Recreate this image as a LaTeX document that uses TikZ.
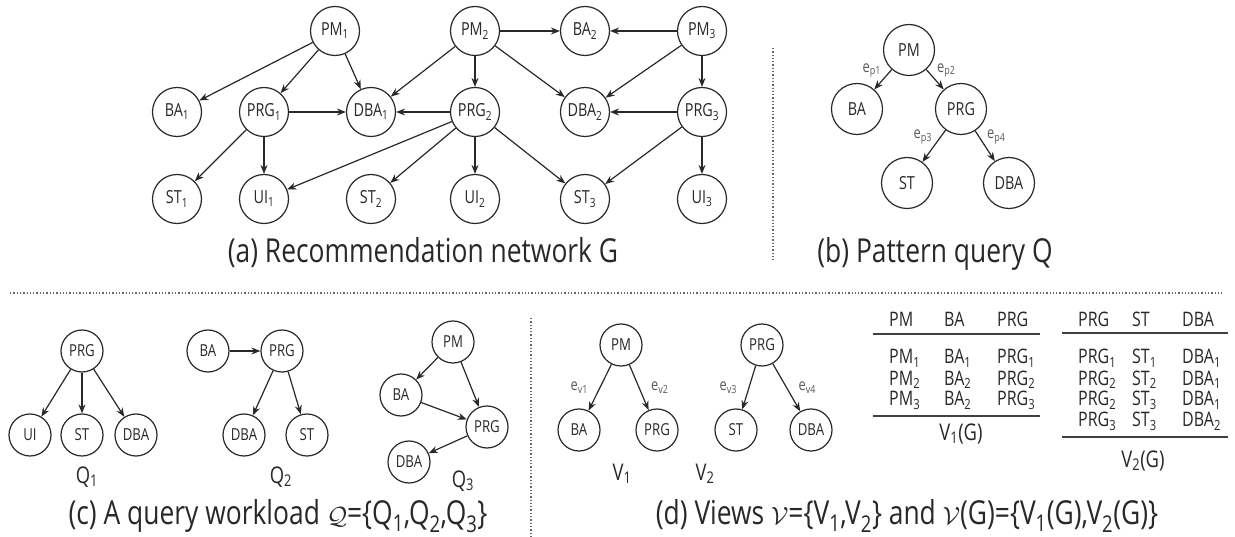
\documentclass[tikz,border=0pt]{standalone}
\usepackage{fontspec}
\setmainfont{Open Sans}[FakeStretch=0.8]
\usepackage{tikz}
\usetikzlibrary{arrows.meta, positioning}
\definecolor{cInk}{RGB}{40,40,40}
\tikzset{
    vtx/.style   ={circle, draw=cInk, line width=1.2pt, minimum size=49pt, inner sep=0pt, text=cInk, font=\fontsize{18}{20}\selectfont},
    bvtx/.style  ={vtx, minimum size=51pt},
    svtx/.style  ={vtx, minimum size=42pt, font=\fontsize{16.5}{18}\selectfont},
    edge/.style  ={-{Stealth[length=9pt, width=7pt]}, line width=1.2pt, cInk},
    elabel/.style={font=\fontsize{16}{18}\selectfont, text=black!65, inner sep=1.5pt},
    capt/.style  ={font=\fontsize{33}{38}\selectfont, text=cInk, anchor=base},
    lbl/.style   ={font=\fontsize{23}{26}\selectfont, text=cInk, anchor=base},
    cell/.style  ={font=\fontsize{20}{22}\selectfont, text=cInk, anchor=base west, inner sep=0pt},
    rule/.style  ={line width=1.3pt, black!75},
    sepline/.style={dotted, line width=1.3pt, black!60},
}

\begin{document}
\begin{tikzpicture}[x=1pt, y=-1pt, on grid]
    \useasboundingbox (0,0) rectangle (1235,537);

    % (a) the network
    \node[vtx] (pm1) at (335,31) {PM\textsubscript{1}};
    \node[vtx] (pm2) at (475,31) {PM\textsubscript{2}};
    \node[vtx, right=110pt of pm2] (ba2) {BA\textsubscript{2}};
    \node[vtx, right=117pt of ba2] (pm3) {PM\textsubscript{3}};
    \node[vtx, below=81pt of pm2] (prg2) {PRG\textsubscript{2}};
    \node[vtx, below=81pt of ba2] (dba2) {DBA\textsubscript{2}};
    \node[vtx, below=81pt of pm3] (prg3) {PRG\textsubscript{3}};
    \node[vtx, left=104pt of prg2] (dba1) {DBA\textsubscript{1}};
    \node[vtx, left=107pt of dba1] (prg1) {PRG\textsubscript{1}};
    \node[vtx, left=87pt of prg1] (ba1) {BA\textsubscript{1}};
    \node[vtx, below=87pt of ba1] (st1) {ST\textsubscript{1}};
    \node[vtx, below=87pt of prg1] (ui1) {UI\textsubscript{1}};
    \node[vtx, below=87pt of dba1] (st2) {ST\textsubscript{2}};
    \node[vtx, below=87pt of prg2] (ui2) {UI\textsubscript{2}};
    \node[vtx, below=87pt of dba2] (st3) {ST\textsubscript{3}};
    \node[vtx, below=87pt of prg3] (ui3) {UI\textsubscript{3}};

    \draw[edge] (pm1) -- (ba1);
    \draw[edge] (pm1) -- (prg1);
    \draw[edge] (pm1) -- (dba1);
    \draw[edge] (prg1) -- (dba1);
    \draw[edge] (prg1) -- (st1);
    \draw[edge] (prg1) -- (ui1);
    \draw[edge] (pm2) -- (dba1);
    \draw[edge] (pm2) -- (prg2);
    \draw[edge] (pm2) -- (ba2);
    \draw[edge] (pm2) -- (dba2);
    \draw[edge] (prg2) -- (dba1);
    \draw[edge] (prg2) -- (ui1);
    \draw[edge] (prg2) -- (st2);
    \draw[edge] (prg2) -- (ui2);
    \draw[edge] (prg2) -- (st3);
    \draw[edge] (pm3) -- (ba2);
    \draw[edge] (pm3) -- (dba2);
    \draw[edge] (pm3) -- (prg3);
    \draw[edge] (prg3) -- (dba2);
    \draw[edge] (prg3) -- (st3);
    \draw[edge] (prg3) -- (ui3);

    \node[capt] (capa) at (423,263) {(a) Recommendation network G};

    % (b) the pattern
    \node[bvtx] (qpm) at (909,50) {PM};
    \node[bvtx, below left=59pt and 52pt of qpm] (qba) {BA};
    \node[bvtx, below right=59pt and 52pt of qpm] (qprg) {PRG};
    \node[bvtx, below left=74pt and 54pt of qprg] (qst) {ST};
    \node[bvtx, below right=74pt and 48pt of qprg] (qdba) {DBA};

    \draw[edge] (qpm) -- node[elabel, above left] {e\textsubscript{p1}} (qba);
    \draw[edge] (qpm) -- node[elabel, above right] {e\textsubscript{p2}} (qprg);
    \draw[edge] (qprg) -- node[elabel, above left] {e\textsubscript{p3}} (qst);
    \draw[edge] (qprg) -- node[elabel, above right] {e\textsubscript{p4}} (qdba);

    \node[capt] (capb) at (935,263) {(b) Pattern query Q};

    % separators
    \draw[sepline] (773,48) -- (773,260);
    \draw[sepline] (10,293) -- (1222,293);
    \draw[sepline] (531,318) -- (531,537);

    % (c) the workload
    \node[svtx] (aprg) at (82,351) {PRG};
    \node[svtx, below=84pt of aprg] (ast) {ST};
    \node[svtx, left=52pt of ast] (aui) {UI};
    \node[svtx, right=54pt of ast] (adba) {DBA};
    \draw[edge] (aprg) -- (aui);
    \draw[edge] (aprg) -- (ast);
    \draw[edge] (aprg) -- (adba);
    \node[lbl] (q1) at (87,483) {Q\textsubscript{1}};

    \node[svtx] (bba) at (208,351) {BA};
    \node[svtx, right=74pt of bba] (bprg) {PRG};
    \node[svtx, below left=84pt and 38pt of bprg] (bdba) {DBA};
    \node[svtx, below right=84pt and 25pt of bprg] (bst) {ST};
    \draw[edge] (bba) -- (bprg);
    \draw[edge] (bprg) -- (bdba);
    \draw[edge] (bprg) -- (bst);
    \node[lbl] (q2) at (281,483) {Q\textsubscript{2}};

    \node[svtx] (cpm) at (453,342) {PM};
    \node[svtx] (cba) at (401,395) {BA};
    \node[svtx] (cprg) at (487,427) {PRG};
    \node[svtx] (cdba) at (409,462) {DBA};
    \draw[edge] (cpm) -- (cba);
    \draw[edge] (cpm) -- (cprg);
    \draw[edge] (cba) -- (cprg);
    \draw[edge] (cprg) -- (cdba);
    \node[lbl] (q3) at (463,487) {Q\textsubscript{3}};

    \node[capt] (capc) at (278,524) {(c) A query workload $\mathcal{Q}$=\{Q\textsubscript{1},Q\textsubscript{2},Q\textsubscript{3}\}};

    % (d) the views
    \node[svtx] (vpm) at (621,345) {PM};
    \node[svtx, below left=85pt and 42pt of vpm] (vba) {BA};
    \node[svtx, below right=85pt and 36pt of vpm] (vprg) {PRG};
    \draw[edge] (vpm) -- node[elabel, left=10pt] {e\textsubscript{v1}} (vba);
    \draw[edge] (vpm) -- node[elabel, right=10pt] {e\textsubscript{v2}} (vprg);
    \node[lbl] (v1) at (622,480) {V\textsubscript{1}};

    \node[svtx] (wprg) at (762,345) {PRG};
    \node[svtx, below left=85pt and 26pt of wprg] (wst) {ST};
    \node[svtx, below right=85pt and 49pt of wprg] (wdba) {DBA};
    \draw[edge] (wprg) -- node[elabel, left=10pt] {e\textsubscript{v3}} (wst);
    \draw[edge] (wprg) -- node[elabel, right=10pt] {e\textsubscript{v4}} (wdba);
    \node[lbl] (v2) at (705,480) {V\textsubscript{2}};

    % view tables
    \node[cell] (t1h1) at (889,327) {PM};
    \node[cell] (t1h2) at (944,327) {BA};
    \node[cell] (t1h3) at (997,327) {PRG};
    \foreach \a/\b/\c [count=\i] in {1/1/1, 2/2/2, 3/2/3} {
        \node[cell] (t1r\i a) at (889,343+21*\i) {PM\textsubscript{\a}};
        \node[cell] (t1r\i b) at (944,343+21*\i) {BA\textsubscript{\b}};
        \node[cell] (t1r\i c) at (997,343+21*\i) {PRG\textsubscript{\c}};
    }
    \draw[rule] (873,334) -- (1040,334);
    \draw[rule, line width=2.4pt] (873,416) -- (1040,416);
    \node[lbl] (t1) at (961,440) {V\textsubscript{1}(G)};

    \node[cell] (t2h1) at (1078,327) {PRG};
    \node[cell] (t2h2) at (1132,327) {ST};
    \node[cell] (t2h3) at (1182,327) {DBA};
    \foreach \a/\b/\c [count=\i] in {1/1/1, 2/2/1, 2/3/1, 3/3/2} {
        \node[cell] (t2r\i a) at (1078,343+21*\i) {PRG\textsubscript{\a}};
        \node[cell] (t2r\i b) at (1132,343+21*\i) {ST\textsubscript{\b}};
        \node[cell] (t2r\i c) at (1182,343+21*\i) {DBA\textsubscript{\c}};
    }
    \draw[rule] (1062,333) -- (1228,333);
    \draw[rule] (1062,437) -- (1228,437);
    \node[lbl] (t2) at (1143,467) {V\textsubscript{2}(G)};

    \node[capt] (capd) at (907,524) {(d) Views $\mathcal{V}$=\{V\textsubscript{1},V\textsubscript{2}\} and $\mathcal{V}$(G)=\{V\textsubscript{1}(G),V\textsubscript{2}(G)\}};
\end{tikzpicture}
\end{document}
